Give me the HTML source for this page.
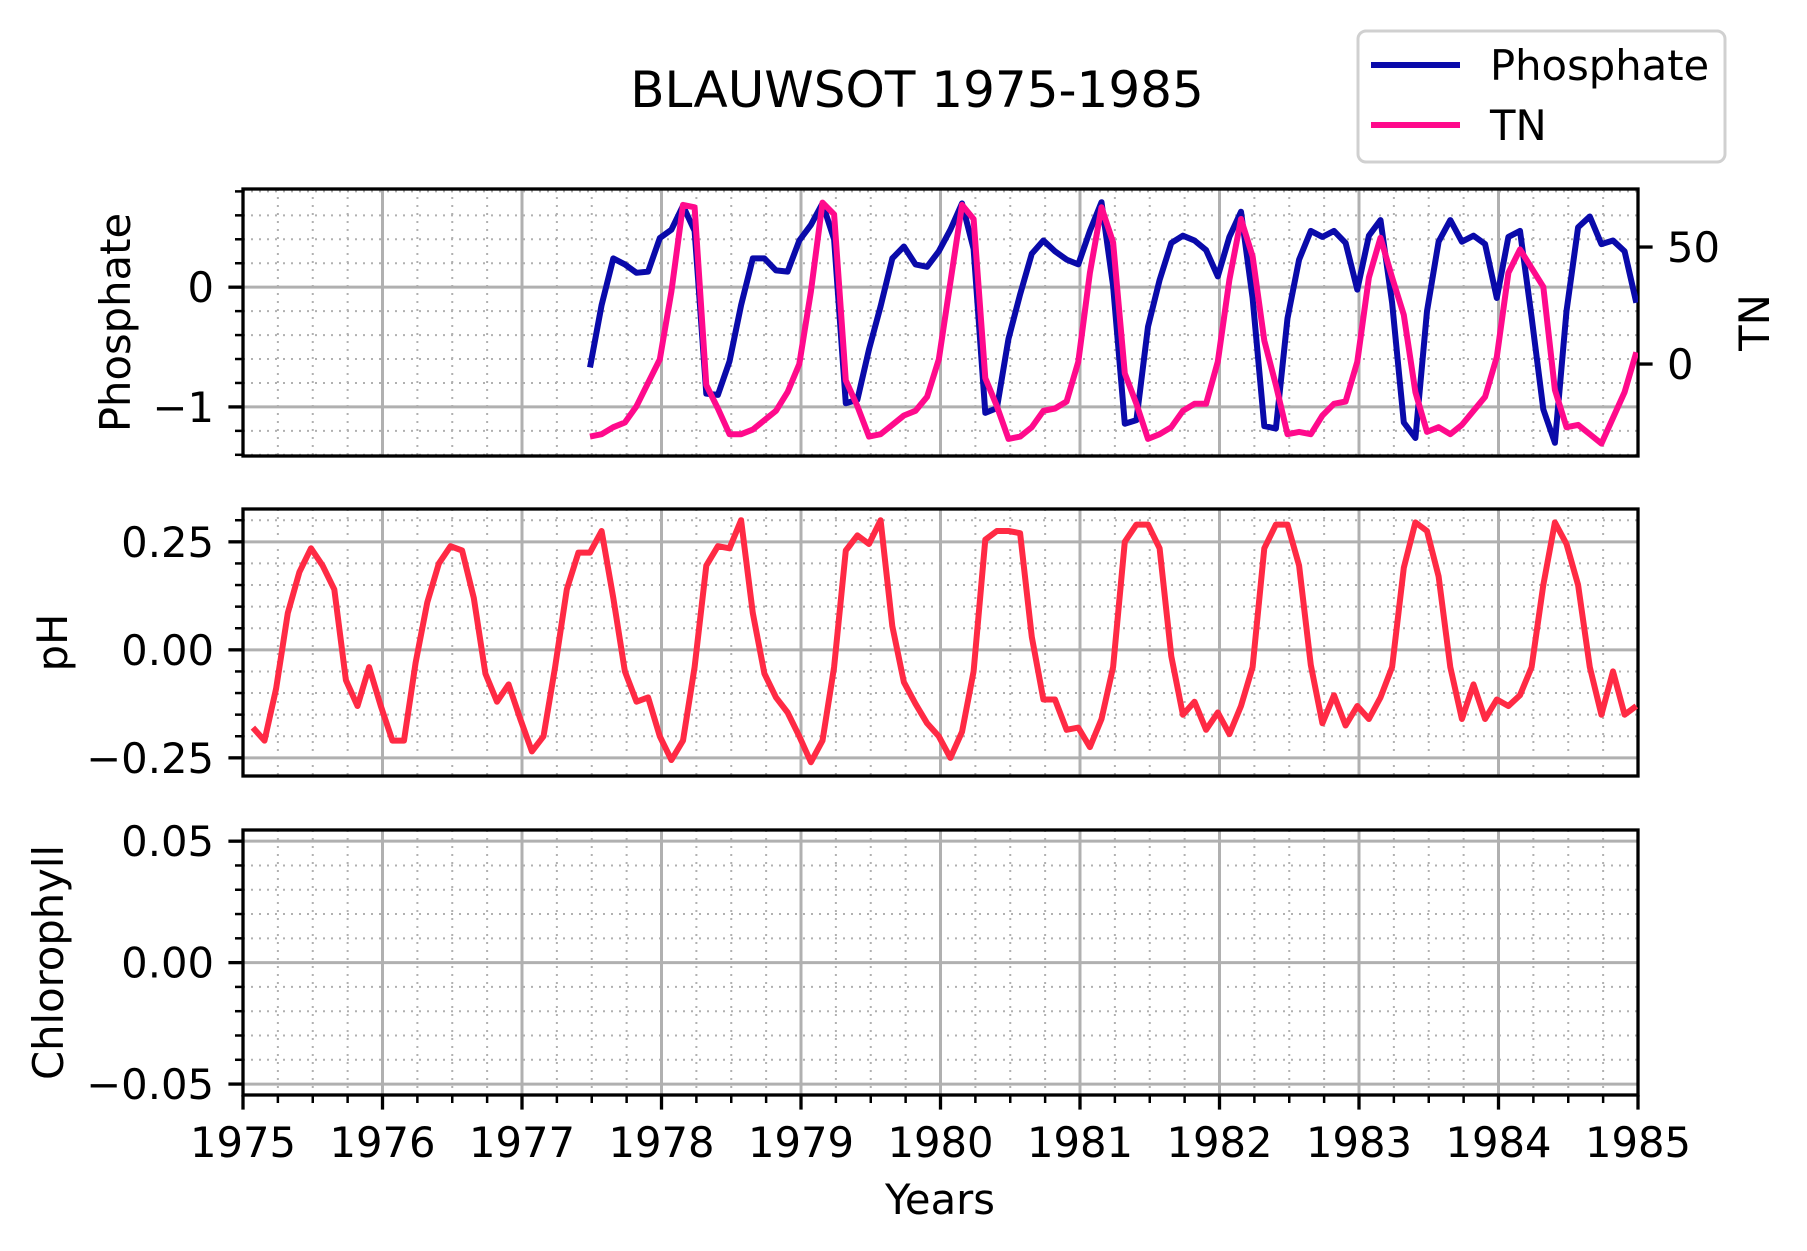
<!DOCTYPE html>
<html><head><meta charset="utf-8"><style>
html,body{margin:0;padding:0;background:#fff}
svg{display:block;font-family:"DejaVu Sans","Liberation Sans",sans-serif}
</style></head><body>
<svg id="chart" width="1807" height="1251" viewBox="0 0 1807 1251" xmlns="http://www.w3.org/2000/svg"></svg>
<script>
const phosphate = [-0.67,-0.15,0.24,0.19,0.12,0.13,0.41,0.48,0.68,0.47,-0.89,-0.9,-0.62,-0.15,0.24,0.24,0.14,0.13,0.39,0.52,0.70,0.4,-0.97,-0.94,-0.52,-0.16,0.24,0.34,0.19,0.17,0.3,0.48,0.70,0.32,-1.05,-1.01,-0.43,-0.06,0.28,0.39,0.30,0.23,0.19,0.47,0.71,0.01,-1.14,-1.11,-0.33,0.06,0.37,0.43,0.39,0.31,0.09,0.42,0.63,-0.09,-1.16,-1.18,-0.26,0.23,0.47,0.42,0.47,0.37,-0.02,0.43,0.56,-0.13,-1.13,-1.26,-0.2,0.38,0.56,0.38,0.43,0.36,-0.09,0.42,0.47,-0.25,-1.02,-1.30,-0.2,0.5,0.59,0.36,0.39,0.3,-0.13];
const tn = [-31,-30,-27,-25,-18,-8,2,31,68,67,-9,-19,-30,-30,-28,-24,-20,-12,0,31,69,64,-7,-18,-31,-30,-26,-22,-20,-14,2,35,68,62,-6,-18,-32,-31,-27,-20,-19,-16,1,39,67,52,-4,-17,-32,-30,-27,-20,-17,-17,1,36,62,46,10,-9,-30,-29,-30,-22,-17,-16,1,37,54,37,21,-12,-29,-27,-30,-26,-20,-14,3,39,49,41,33,-11,-27,-26,-30,-34,-23,-12,5];
const ph = [-0.18,-0.21,-0.09,0.085,0.18,0.235,0.195,0.14,-0.07,-0.13,-0.04,-0.13,-0.21,-0.21,-0.03,0.11,0.2,0.24,0.23,0.12,-0.055,-0.12,-0.08,-0.16,-0.235,-0.2,-0.04,0.14,0.225,0.225,0.275,0.12,-0.05,-0.12,-0.11,-0.2,-0.255,-0.21,-0.04,0.195,0.24,0.235,0.3,0.085,-0.055,-0.11,-0.145,-0.2,-0.26,-0.21,-0.04,0.23,0.265,0.245,0.3,0.055,-0.075,-0.125,-0.17,-0.2,-0.25,-0.19,-0.05,0.255,0.275,0.275,0.27,0.03,-0.115,-0.115,-0.185,-0.18,-0.225,-0.16,-0.04,0.25,0.29,0.29,0.235,-0.015,-0.15,-0.12,-0.185,-0.145,-0.195,-0.13,-0.04,0.235,0.29,0.29,0.195,-0.035,-0.17,-0.105,-0.175,-0.13,-0.16,-0.11,-0.04,0.19,0.295,0.275,0.17,-0.04,-0.16,-0.08,-0.16,-0.115,-0.13,-0.105,-0.04,0.15,0.295,0.245,0.15,-0.04,-0.15,-0.05,-0.15,-0.13];
const phosphateStartMonth = 29;
const xTickLabels = ["1975","1976","1977","1978","1979","1980","1981","1982","1983","1984","1985"];

const NS="http://www.w3.org/2000/svg";
const svg=document.getElementById('chart');
function mk(tag,attrs,parent){const e=document.createElementNS(NS,tag);for(const k in attrs)e.setAttribute(k,attrs[k]);(parent||svg).appendChild(e);return e;}
const X0=243,X1=1638;
const xs=t=>X0+(t-1975)/10*(X1-X0);
const monthT=i=>1975+(i+0.85)/12;
function fmt(v,d){let s=v.toFixed(d);if(v<-1e-9)s='\u2212'+s.slice(1);if(Math.abs(v)<1e-9)s=(0).toFixed(d);return s;}

const panels=[
 {name:'phosphate-panel',top:189,bot:456,min:-1.41,max:0.82,major:1,minor:0.2,dec:0},
 {name:'ph-panel',top:509,bot:776,min:-0.292,max:0.326,major:0.25,minor:0.05,dec:2},
 {name:'chlorophyll-panel',top:830,bot:1095,min:-0.0545,max:0.0546,major:0.05,minor:0.01,dec:2}
];
panels.forEach(p=>{p.ys=v=>p.bot-(v-p.min)/(p.max-p.min)*(p.bot-p.top);});

panels.forEach((p,pi)=>{
 const g=mk('g',{});
 
 
 const showX=(pi===2);
 for(let t=1975;t<=1985.001;t+=0.25){const x=xs(t);
  mk('line',{x1:x,x2:x,y1:p.top,y2:p.bot,stroke:'#b0b0b0','stroke-width':2,'stroke-dasharray':'2,6'},g);
  if(showX)mk('line',{x1:x,x2:x,y1:p.bot,y2:p.bot+8,stroke:'#000','stroke-width':2.5},g);}
 const s0=Math.ceil(p.min/p.minor),s1=Math.floor(p.max/p.minor);
 for(let k=s0;k<=s1;k++){const y=p.ys(k*p.minor);
  mk('line',{x1:X0,x2:X1,y1:y,y2:y,stroke:'#b0b0b0','stroke-width':2,'stroke-dasharray':'2,6'},g);
  mk('line',{x1:X0-8,x2:X0,y1:y,y2:y,stroke:'#000','stroke-width':2.5},g);}
 for(let i=0;i<=10;i++){const x=xs(1975+i);
  mk('line',{x1:x,x2:x,y1:p.top,y2:p.bot,stroke:'#b0b0b0','stroke-width':3},g);
  if(showX)mk('line',{x1:x,x2:x,y1:p.bot,y2:p.bot+14.6,stroke:'#000','stroke-width':3.3},g);}
 const m0=Math.ceil(p.min/p.major-1e-9),m1=Math.floor(p.max/p.major+1e-9);
 for(let k=m0;k<=m1;k++){const v=k*p.major,y=p.ys(v);
  mk('line',{x1:X0,x2:X1,y1:y,y2:y,stroke:'#b0b0b0','stroke-width':3},g);
  mk('line',{x1:X0-14.6,x2:X0,y1:y,y2:y,stroke:'#000','stroke-width':3.3},g);
  const tx=mk('text',{x:214,y:y+15,'text-anchor':'end','font-size':41.7},g);tx.textContent=fmt(v,p.dec);
  
  }
 mk('rect',{x:X0,y:p.top,width:X1-X0,height:p.bot-p.top,fill:'none',stroke:'#000','stroke-width':3.3},g);
});

xTickLabels.forEach((lab,i)=>{const t=mk('text',{x:xs(1975+i),y:1157,'text-anchor':'middle','font-size':41.7});t.textContent=lab;
 
 });

const P1=panels[0];
const tnMin=-39.3,tnMax=74.8;
const tys=v=>P1.bot-(v-tnMin)/(tnMax-tnMin)*(P1.bot-P1.top);
[0,50].forEach(v=>{const y=tys(v);
 mk('line',{x1:X1,x2:X1+14.6,y1:y,y2:y,stroke:'#000','stroke-width':3.3});
 const t=mk('text',{x:1667,y:y+15,'font-size':41.7});t.textContent=String(v);
 
 });

function clip(id,p){const c=mk('clipPath',{id:id});mk('rect',{x:X0,y:p.top,width:X1-X0,height:p.bot-p.top},c);}
clip('c1',P1);clip('c2',panels[1]);

function line(vals,start,yf,color,name,cl){
 const d=vals.map((v,i)=>(i?'L':'M')+xs(monthT(start+i)).toFixed(1)+','+yf(v).toFixed(1)).join('');
 const p=mk('path',{d:d,fill:'none',stroke:color,'stroke-width':6,'stroke-linejoin':'round','clip-path':'url(#'+cl+')'});
 
 }
line(phosphate,phosphateStartMonth,P1.ys,'#0a0aaa','phosphate-line','c1');
line(tn,phosphateStartMonth,tys,'#ff0a8c','tn-line','c1');
line(ph,0,panels[1].ys,'#ff2a44','ph-line','c2');

function label(txt,x,y,rot,size,name){const t=mk('text',{x:x,y:y,'text-anchor':'middle','font-size':size,transform:rot?`rotate(${rot} ${x} ${y})`:''});t.textContent=txt;
 
 }
label('BLAUWSOT 1975-1985',917,107,0,50,'chart-title');
label('Phosphate',130,(P1.top+P1.bot)/2,-90,41.7,'phosphate-axis-title');
label('TN',1769,(P1.top+P1.bot)/2,-90,41.7,'tn-axis-title');
label('pH',67,(panels[1].top+panels[1].bot)/2,-90,41.7,'ph-axis-title');
label('Chlorophyll',63,(panels[2].top+panels[2].bot)/2,-90,41.7,'chlorophyll-axis-title');
label('Years',940,1214,0,41.7,'x-axis-title');

const lg=mk('g',{});


mk('rect',{x:1358,y:31,width:367,height:131,rx:8,fill:'#fff',stroke:'#d0d0d0','stroke-width':3},lg);
[['Phosphate','#0a0aaa',65],['TN','#ff0a8c',125]].forEach(([n,c,y])=>{
 mk('line',{x1:1371,x2:1460,y1:y,y2:y,stroke:c,'stroke-width':6},lg);
 const t=mk('text',{x:1490,y:y+15,'font-size':41.7},lg);t.textContent=n;
 
 });
</script>
</body></html>
